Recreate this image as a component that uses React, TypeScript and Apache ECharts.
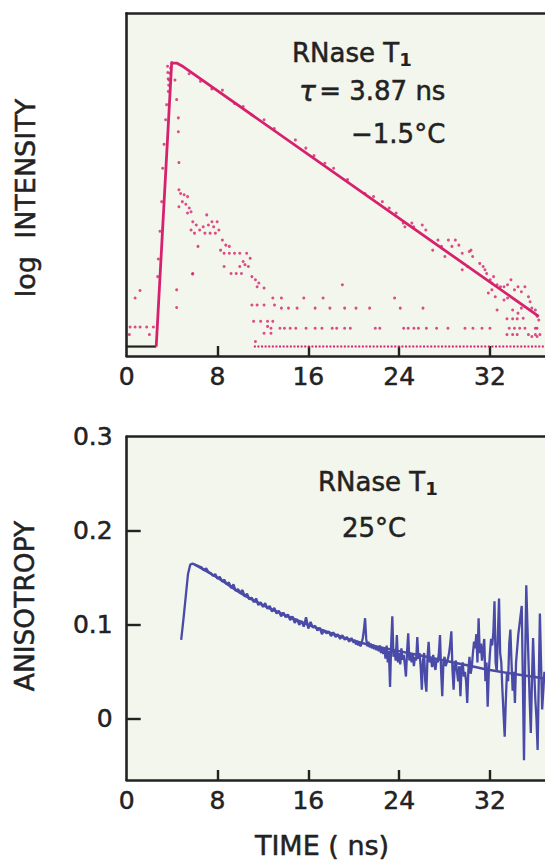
import React, { useEffect, useRef } from "react";
import * as echarts from "echarts";

const FONT = '"DejaVu Sans", "Noto Sans", sans-serif';
const INK = "#222222";
const MAGENTA = "#d6226e";
const BLUE = "#4a4aa8";
const PANEL_BG = "#f3f6ec";

// ---------- axes ----------
const X_MAX = 36.85;
const X_TICK_LABELS = [0, 8, 16, 24, 32];
const X_TICK_MARKS = [8, 16, 24, 32];
const LOGI_MIN = -0.15;
const LOGI_MAX = 5.29;
const ANISO_MIN = -0.065;
const ANISO_MAX = 0.3;
const ANISO_TICK_LABELS = [0, 0.1, 0.2, 0.3];
const ANISO_TICK_MARKS = [0, 0.1, 0.2];

// ---------- top panel: log intensity (time ns, log10 counts) ----------
const BASELINE = [[0, 0], [2.6, 0]];
const INTENSITY_FIT = [[2.6, 0], [3.96, 4.5], [4.4, 4.5], [5.0, 4.44], [36.3, 0.48]];
const FLOOR_ROW = [[11.2, 0], [36.85, 0]];

const LAMP_POINTS = [
  [0.23, 0.19], [0.3, 0.31], [0.74, 0.31], [1.18, 0.31], [1.76, 0.31], [2.35, 0.31],
  [0.74, 0.77], [1.17, 0.89], [2.0, 0.19],
  [2.73, 1.11], [2.79, 1.39], [2.93, 1.83], [3.08, 2.3], [3.17, 2.83], [3.29, 3.21],
  [3.43, 3.6], [3.52, 3.84], [3.67, 4.05], [3.73, 4.23], [3.81, 4.34], [3.87, 4.42],
  [3.96, 4.51], [3.6, 4.45], [3.62, 4.35], [3.65, 4.25], [3.7, 4.15],
  [4.25, 4.23], [4.4, 3.92], [4.55, 3.63], [4.55, 3.41], [4.6, 2.92],
  [4.4, 0.9], [4.4, 0.62], [5.8, 1.15],
  [4.6, 2.49], [4.75, 2.43], [5.06, 2.41], [5.36, 2.38], [4.6, 2.22], [4.9, 2.3],
  [5.21, 2.26], [5.51, 2.2], [5.67, 2.14], [5.36, 2.12], [5.82, 1.98], [6.13, 1.93],
  [5.67, 1.85], [5.97, 1.8], [6.43, 1.85], [6.74, 1.9], [7.05, 2.09], [7.2, 1.93],
  [7.51, 1.98], [7.66, 1.9], [7.97, 1.98], [8.12, 1.85], [7.81, 1.8], [7.35, 1.8],
  [6.89, 1.8], [6.28, 1.59], [8.43, 1.69], [8.73, 1.61], [9.04, 1.59], [8.27, 1.53],
  [8.58, 1.48], [9.04, 1.48], [9.5, 1.48], [9.96, 1.48], [10.57, 1.48], [10.88, 1.4],
  [10.26, 1.35], [9.96, 1.27], [10.42, 1.3], [10.72, 1.27], [8.58, 1.27], [9.19, 1.16],
  [9.65, 1.16], [10.11, 1.16], [11.03, 1.11], [11.34, 1.06], [11.64, 1.01], [5.82, 1.16],
  [11.49, 0.95], [12.1, 0.93], [11.03, 0.66], [11.49, 0.66], [12.1, 0.66], [12.87, 0.77],
  [13.63, 0.77], [13.02, 0.66], [13.63, 0.61], [14.25, 0.61], [15.01, 0.61],
  [11.18, 0.4], [11.8, 0.4], [12.41, 0.4], [12.87, 0.4], [12.41, 0.32], [12.71, 0.29],
  [12.1, 0.21], [12.71, 0.21], [11.34, 0.08],
];

const DECAY_POINTS = [
  [5.5, 4.33], [6.5, 4.21], [7.5, 4.09], [8.43, 4.07], [9.5, 3.86], [10.26, 3.81],
  [11.0, 3.68], [12.1, 3.6], [13.0, 3.46], [14.86, 3.28], [15.78, 3.15], [16.5, 3.03],
  [17.46, 2.91], [18.23, 2.83], [19.45, 2.65], [20.99, 2.43], [21.75, 2.38], [22.52, 2.3],
  [23.13, 2.2], [23.74, 2.12], [24.36, 1.96], [24.51, 1.9], [25.12, 1.96], [25.28, 1.9],
  [26.04, 1.93], [26.35, 1.85], [26.96, 1.53], [27.42, 1.69], [27.73, 1.59], [28.03, 1.43],
  [28.34, 1.69], [28.65, 1.59], [28.95, 1.69], [29.26, 1.61], [29.56, 1.48], [30.02, 1.27],
  [30.18, 1.51], [30.33, 1.53], [29.56, 1.22], [30.48, 1.43], [31.1, 1.32], [31.4, 1.27],
  [31.56, 1.22], [31.71, 1.16], [32.02, 1.06], [32.17, 1.01], [32.32, 1.11], [32.63, 0.98],
  [32.93, 0.95], [33.24, 0.95], [33.55, 0.98], [33.85, 1.06], [34.16, 0.9], [34.47, 0.95],
  [34.77, 0.87], [35.08, 0.95], [35.39, 0.79], [35.54, 0.71], [35.69, 0.61], [36.0, 0.58],
  [36.15, 0.48], [36.15, 0.29], [36.3, 0.42], [31.86, 0.85], [32.17, 0.9], [32.47, 0.79],
  [32.63, 0.58], [33.24, 0.74], [33.55, 0.77], [34.0, 0.58], [34.47, 0.53], [34.77, 0.61],
  [34.93, 0.45], [35.08, 0.29], [35.39, 0.19], [35.69, 0.16], [33.7, 0.29], [34.16, 0.29],
  [34.62, 0.29], [36.0, 0.29], [36.15, 0.16], [33.5, 0.44], [34.0, 0.44], [34.4, 0.44],
  [33.5, 0.19], [34.0, 0.19], [34.4, 0.19], [36.0, 0.19], [36.4, 0.19],
];

const NOISE_POINTS = [
  [13.5, 0.29], [13.9, 0.29], [14.4, 0.29], [14.9, 0.29], [15.8, 0.29], [16.6, 0.29],
  [17.2, 0.29], [18.1, 0.29], [18.5, 0.29], [19.2, 0.29], [19.7, 0.29], [21.9, 0.29],
  [22.3, 0.29], [24.4, 0.29], [24.8, 0.29], [25.3, 0.29], [25.7, 0.29], [26.4, 0.29],
  [27.3, 0.29], [28.3, 0.29], [29.8, 0.29], [30.5, 0.29], [31.3, 0.29], [32.0, 0.29],
  [16.6, 0.61], [17.9, 0.61], [19.2, 0.61], [20.2, 0.61], [21.4, 0.61], [24.1, 0.61],
  [26.1, 0.61], [15.6, 0.77], [17.3, 0.77], [23.6, 0.77], [19.0, 0.98],
];

// ---------- bottom panel: anisotropy ----------
// early channels: t = 4.8 ... 19.8 ns, every 0.2 ns
const ANISO_EARLY_T0 = 4.8;
const ANISO_EARLY_DT = 0.2;
const ANISO_EARLY = [
  0.084, 0.106, 0.13, 0.154, 0.164, 0.165, 0.164, 0.163, 0.162, 0.161,
  0.158, 0.16, 0.156, 0.155, 0.152, 0.154, 0.149, 0.151, 0.146, 0.148,
  0.143, 0.145, 0.139, 0.143, 0.136, 0.138, 0.134, 0.137, 0.13, 0.133,
  0.127, 0.129, 0.124, 0.128, 0.121, 0.124, 0.119, 0.123, 0.117, 0.12,
  0.114, 0.118, 0.112, 0.115, 0.109, 0.113, 0.108, 0.111, 0.105, 0.109,
  0.102, 0.106, 0.1, 0.104, 0.098, 0.108, 0.096, 0.103, 0.097, 0.099,
  0.094, 0.097, 0.09, 0.094, 0.091, 0.093, 0.088, 0.092, 0.087, 0.09,
  0.085, 0.089, 0.084, 0.087, 0.082, 0.086,
];
// late channels: t = 20.0 ... 36.8 ns, every 0.1 ns
const ANISO_LATE_T0 = 20.0;
const ANISO_LATE_DT = 0.1;
const ANISO_LATE = [
  0.081, 0.084, 0.079, 0.083, 0.078, 0.082, 0.077, 0.081, 0.086, 0.095,
  0.107, 0.085, 0.077, 0.082, 0.076, 0.08, 0.075, 0.079, 0.074, 0.078,
  0.073, 0.077, 0.072, 0.078, 0.07, 0.076, 0.069, 0.075, 0.064, 0.078,
  0.06, 0.072, 0.034, 0.08, 0.109, 0.066, 0.072, 0.062, 0.089, 0.06,
  0.07, 0.058, 0.075, 0.063, 0.068, 0.058, 0.045, 0.072, 0.091, 0.062,
  0.07, 0.06, 0.068, 0.056, 0.066, 0.062, 0.087, 0.064, 0.07, 0.055,
  0.031, 0.062, 0.07, 0.04, 0.029, 0.066, 0.082, 0.06, 0.066, 0.055,
  0.068, 0.058, 0.052, 0.064, 0.06, 0.07, 0.089, 0.05, 0.024, 0.06,
  0.066, 0.056, 0.06, 0.064, 0.07, 0.08, 0.093, 0.052, 0.031, 0.058,
  0.062, 0.05, 0.04, 0.056, 0.024, 0.055, 0.06, 0.045, 0.05, 0.04,
  0.017, 0.052, 0.066, 0.048, 0.055, 0.07, 0.082, 0.075, 0.09, 0.06,
  0.107, 0.07, 0.08, 0.062, 0.075, 0.085, 0.04, 0.06, 0.013, 0.05,
  0.07, 0.085, 0.078, 0.092, 0.125, 0.06, 0.05, 0.09, 0.128, 0.07,
  0.06, 0.03, 0.005, -0.019, 0.02, 0.05, 0.04, 0.08, 0.095, 0.06,
  0.03, 0.05, 0.017, 0.06, 0.075, 0.09, 0.1, 0.11, 0.12, 0.04,
  -0.044, 0.06, 0.142, 0.1, 0.06, 0.02, -0.015, 0.04, 0.086, 0.05,
  0.02, 0.0, -0.033, 0.04, 0.112, 0.06, 0.01, 0.03, 0.05,
];
const ANISO_FIT = [
  [6, 0.164], [8, 0.15], [10, 0.134], [12, 0.121], [14, 0.11], [16, 0.1],
  [18, 0.091], [20, 0.083], [22, 0.077], [24, 0.072], [26, 0.067], [28, 0.062],
  [30, 0.057], [32, 0.052], [34, 0.048], [36.85, 0.043],
];

const GRID_LEFT = 126.7;
const TICK_FONT = 25;

function xAxisBottom(gridIndex: number) {
  return {
    type: "value",
    gridIndex,
    min: 0,
    max: X_MAX,
    position: "bottom",
    axisLine: { show: true, onZero: false, lineStyle: { color: INK, width: 2.6 } },
    axisTick: {
      show: true,
      inside: true,
      length: 10,
      customValues: X_TICK_MARKS,
      lineStyle: { color: INK, width: 2.4 },
    },
    axisLabel: {
      show: true,
      customValues: X_TICK_LABELS,
      fontSize: TICK_FONT,
      fontFamily: FONT,
      color: INK,
      textBorderColor: INK,
      textBorderWidth: 0.5,
      margin: 8,
    },
    splitLine: { show: false },
  };
}

function xAxisTop(gridIndex: number) {
  return {
    type: "value",
    gridIndex,
    min: 0,
    max: X_MAX,
    position: "top",
    axisLine: { show: true, onZero: false, lineStyle: { color: INK, width: 2.6 } },
    axisTick: { show: false },
    axisLabel: { show: false },
    splitLine: { show: false },
  };
}

export default function App() {
  const ref = useRef<HTMLDivElement>(null);
  useEffect(() => {
    if (!ref.current) return;
    const chart = echarts.init(ref.current, null, { renderer: "svg" });
    const anisoData = [
      ...ANISO_EARLY.map((v, i) => [+(ANISO_EARLY_T0 + i * ANISO_EARLY_DT).toFixed(2), v]),
      ...ANISO_LATE.map((v, i) => [+(ANISO_LATE_T0 + i * ANISO_LATE_DT).toFixed(2), v]),
    ];
    const textBase = {
      fontFamily: FONT,
      fill: INK,
      stroke: INK,
      lineWidth: 0.5,
    };
    const richMain = {
      fontFamily: FONT,
      fontSize: 26,
      fill: INK,
      stroke: INK,
      lineWidth: 0.5,
    };
    const richSub = {
      fontFamily: FONT,
      fontSize: 18,
      fontWeight: "bold",
      fill: INK,
      lineHeight: 18,
      verticalAlign: "bottom",
    };
    chart.setOption({
      animation: false,
      backgroundColor: "#ffffff",
      grid: [
        {
          left: GRID_LEFT,
          top: 13.3,
          right: 0,
          height: 342.7,
          show: true,
          backgroundColor: PANEL_BG,
          borderWidth: 0,
        },
        {
          left: GRID_LEFT,
          top: 436.7,
          right: 0,
          height: 343.3,
          show: true,
          backgroundColor: PANEL_BG,
          borderWidth: 0,
        },
      ],
      xAxis: [xAxisBottom(0), xAxisTop(0), xAxisBottom(1), xAxisTop(1)],
      yAxis: [
        {
          type: "value",
          gridIndex: 0,
          min: LOGI_MIN,
          max: LOGI_MAX,
          axisLine: { show: true, onZero: false, lineStyle: { color: INK, width: 2.6 } },
          axisTick: { show: false },
          axisLabel: { show: false },
          splitLine: { show: false },
        },
        {
          type: "value",
          gridIndex: 1,
          min: ANISO_MIN,
          max: ANISO_MAX,
          axisLine: { show: true, onZero: false, lineStyle: { color: INK, width: 2.6 } },
          axisTick: {
            show: true,
            inside: true,
            length: 14,
            customValues: ANISO_TICK_MARKS,
            lineStyle: { color: INK, width: 2.4 },
          },
          axisLabel: {
            show: true,
            customValues: ANISO_TICK_LABELS,
            fontSize: TICK_FONT,
            fontFamily: FONT,
            color: INK,
            textBorderColor: INK,
            textBorderWidth: 0.5,
            margin: 14,
            formatter: (v: number) => (v === 0 ? "0" : v.toFixed(1)),
          },
          splitLine: { show: false },
        },
      ],
      series: [
        {
          type: "line",
          xAxisIndex: 0,
          yAxisIndex: 0,
          data: BASELINE,
          symbol: "none",
          lineStyle: { color: INK, width: 2.2 },
          z: 3,
        },
        {
          type: "line",
          xAxisIndex: 0,
          yAxisIndex: 0,
          data: FLOOR_ROW,
          symbol: "none",
          lineStyle: { color: MAGENTA, width: 2, type: [2, 1.6] },
          z: 2,
        },
        {
          type: "scatter",
          xAxisIndex: 0,
          yAxisIndex: 0,
          data: LAMP_POINTS,
          symbol: "circle",
          symbolSize: 3,
          itemStyle: { color: MAGENTA },
          z: 2,
        },
        {
          type: "scatter",
          xAxisIndex: 0,
          yAxisIndex: 0,
          data: DECAY_POINTS,
          symbol: "circle",
          symbolSize: 3,
          itemStyle: { color: MAGENTA },
          z: 2,
        },
        {
          type: "scatter",
          xAxisIndex: 0,
          yAxisIndex: 0,
          data: NOISE_POINTS,
          symbol: "circle",
          symbolSize: 3,
          itemStyle: { color: MAGENTA },
          z: 2,
        },
        {
          type: "line",
          xAxisIndex: 0,
          yAxisIndex: 0,
          data: INTENSITY_FIT,
          symbol: "none",
          lineStyle: { color: MAGENTA, width: 2.8 },
          z: 4,
        },
        {
          type: "line",
          xAxisIndex: 2,
          yAxisIndex: 1,
          data: anisoData,
          symbol: "none",
          lineStyle: { color: BLUE, width: 2.3 },
          z: 3,
        },
        {
          type: "line",
          xAxisIndex: 2,
          yAxisIndex: 1,
          data: ANISO_FIT,
          smooth: true,
          symbol: "none",
          lineStyle: { color: BLUE, width: 2.5 },
          z: 4,
        },
      ],
      graphic: [
        {
          type: "text",
          x: 25,
          y: 198,
          rotation: Math.PI / 2,
          style: {
            ...textBase,
            text: "log  INTENSITY",
            fontSize: 27,
            align: "center",
            verticalAlign: "middle",
          },
        },
        {
          type: "text",
          x: 24,
          y: 606,
          rotation: Math.PI / 2,
          style: {
            ...textBase,
            text: "ANISOTROPY",
            fontSize: 26.5,
            align: "center",
            verticalAlign: "middle",
          },
        },
        {
          type: "text",
          x: 322,
          y: 845,
          style: {
            ...textBase,
            text: "TIME ( ns)",
            fontSize: 27,
            align: "center",
            verticalAlign: "middle",
          },
        },
        {
          type: "text",
          x: 292,
          y: 53,
          style: {
            text: "{a|RNase T}{b|1}",
            align: "left",
            verticalAlign: "middle",
            rich: { a: { ...richMain, lineHeight: 31 }, b: richSub },
          },
        },
        {
          type: "text",
          x: 299,
          y: 91,
          style: {
            text: "{t|τ} {a|= 3.87 ns}",
            align: "left",
            verticalAlign: "middle",
            rich: {
              t: { ...richMain, fontSize: 28, fontStyle: "italic" },
              a: richMain,
            },
          },
        },
        {
          type: "text",
          x: 351,
          y: 134,
          style: {
            ...textBase,
            text: "−1.5°C",
            fontSize: 26,
            align: "left",
            verticalAlign: "middle",
          },
        },
        {
          type: "text",
          x: 318,
          y: 482,
          style: {
            text: "{a|RNase T}{b|1}",
            align: "left",
            verticalAlign: "middle",
            rich: { a: { ...richMain, lineHeight: 31 }, b: richSub },
          },
        },
        {
          type: "text",
          x: 342,
          y: 528,
          style: {
            ...textBase,
            text: "25°C",
            fontSize: 26,
            align: "left",
            verticalAlign: "middle",
          },
        },
      ],
    });
    return () => chart.dispose();
  }, []);
  return (
    <div
      ref={ref}
      style={{ position: "fixed", left: 0, top: 0, width: 545, height: 865 }}
    />
  );
}
